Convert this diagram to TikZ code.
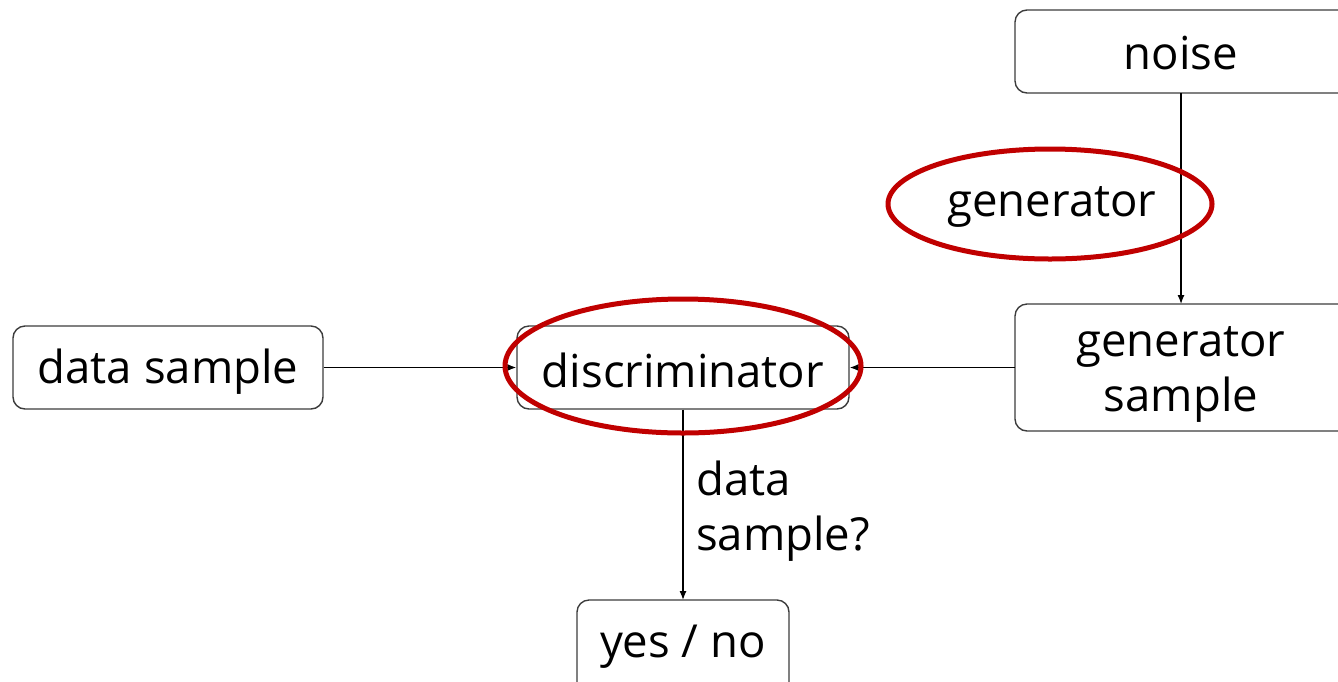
\documentclass[tikz,border=0pt]{standalone}
\usepackage{fontspec}
\setmainfont{Open Sans}
\usetikzlibrary{arrows.meta,shapes.geometric}
\definecolor{ringred}{RGB}{192,0,0}
\definecolor{boxline}{RGB}{60,60,60}
\begin{document}
\begin{tikzpicture}[x=1pt,y=-1pt,
  every node/.style={font=\fontsize{45.5}{55}\selectfont, inner sep=0pt},
  box/.style={draw=boxline, line width=1.4pt, rounded corners=12pt, fill=white},
  conn/.style={line width=1.3pt, -{Latex[length=9pt,width=7pt]}},
  ring/.style={draw=ringred, line width=5pt, ellipse}
]
\useasboundingbox (0,0) rectangle (1338,681);
\clip (0,0) rectangle (1338,681);
% boxes
\node[box, minimum width=310pt, minimum height=83pt] (data) at (168,367.5) {};
\node[box, minimum width=332pt, minimum height=83pt] (disc) at (683,367.5) {};
\node[box, minimum width=340pt, minimum height=83pt] (noise) at (1185,51.5) {};
\node[box, minimum width=340pt, minimum height=127pt] (gsamp) at (1185,367.5) {};
\node[box, minimum width=212pt, minimum height=100pt] (yesno) at (683,650) {};
% texts
\node (datatext) at (168,372) {data sample};
\node (disctext) at (683,370) {discriminator};
\node (noisetext) at (1181,53) {noise};
\node[align=center] (gsamptext) at (1181,374) {generator\\sample};
\node (yesnotext) at (683,647) {yes / no};
\node (gentext) at (1052,207) {generator};
\node[align=left, anchor=north west] (qtext) at (696,461) {data\\sample?};
% connectors
\coordinate (noiseb) at (1181,93);
\coordinate (gsampt) at (1181,304);
\draw[conn] (noiseb) -- (gsampt);
\draw[conn] (data.east) -- (disc.west);
\coordinate (gsampw) at (1015,367.5);
\draw[conn] (gsampw) -- (disc.east);
\coordinate (yesnot) at (683,600);
\draw[conn] (disc.south) -- (yesnot);
% red rings
\node[ring, minimum width=324pt, minimum height=110pt] (ring1) at (1050,204) {};
\node[ring, minimum width=356pt, minimum height=134pt] (ring2) at (683,366) {};
\end{tikzpicture}
\end{document}
